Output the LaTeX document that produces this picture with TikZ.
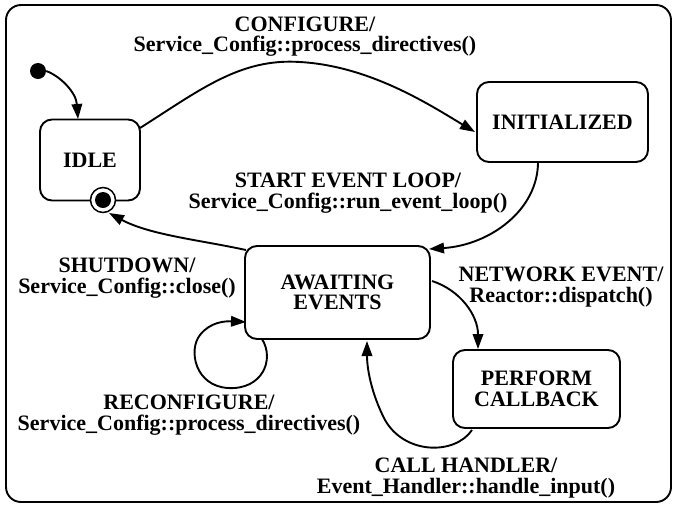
\documentclass[tikz,border=0pt]{standalone}
\usepackage{fontspec}
\setmainfont{Liberation Serif}
\usetikzlibrary{arrows.meta}
\begin{document}
\begin{tikzpicture}[x=1pt,y=-1pt,
  every node/.style={font=\fontsize{22}{20.5}\selectfont\bfseries},
  state/.style={draw,line width=1.9pt,rounded corners=12pt,align=center,inner sep=0pt},
  lbl/.style={align=center,inner sep=0pt},
  conn/.style={line width=1.9pt,-{Triangle[length=15pt,width=10.5pt]}}]
\useasboundingbox (0,0) rectangle (676,507);
\draw[line width=1.9pt,rounded corners=15pt] (6,5) rectangle (671,502);
% states
\node[state,minimum width=100pt,minimum height=81pt] (idle) at (90,160) {IDLE};
\node[state,minimum width=171pt,minimum height=80pt] (init) at (562.5,122) {INITIALIZED};
\node[state,minimum width=185pt,minimum height=93pt] (await) at (337.5,292.5) {AWAITING\\EVENTS};
\node[state,minimum width=167pt,minimum height=78pt] (perf) at (536.5,389) {PERFORM\\CALLBACK};
% pseudo states
\node[circle,fill=black,minimum size=16pt,inner sep=0pt] (start) at (38,71) {};
\node[circle,draw,line width=1.5pt,fill=white,minimum size=25pt,inner sep=0pt] (fin) at (103,200) {};
\node[circle,fill=black,minimum size=16pt,inner sep=0pt] (finin) at (103,200) {};
% connector end points
\coordinate (idleT) at (78,119);
\coordinate (idleR) at (140,128);
\coordinate (initL) at (475,132);
\coordinate (initB) at (538,162);
\coordinate (awTR) at (429,249);
\coordinate (awTL) at (246,250);
\coordinate (finB) at (109,213);
\coordinate (awR) at (432,281);
\coordinate (perfT) at (478,349);
\coordinate (perfBL) at (472,430);
\coordinate (awB) at (367,341);
\coordinate (awBL) at (262,339);
\coordinate (awL) at (246,322);
% connectors
\draw[conn] (start.east) .. controls (60,76) and (76,92) .. (idleT);
\draw[conn] (idleR) .. controls (200,90) and (240,58) .. (300,62) .. controls (370,66) and (430,105) .. (initL);
\draw[conn] (initB) .. controls (538,210) and (490,245) .. (awTR);
\draw[conn] (awTL) .. controls (200,240) and (150,235) .. (finB);
\draw[conn] (awR) .. controls (460,290) and (478,315) .. (perfT);
\draw[conn] (perfBL) .. controls (455,455) and (405,455) .. (385,420) .. controls (372,395) and (367,370) .. (awB);
\draw[conn] (awBL) .. controls (275,360) and (262,390) .. (228,388) .. controls (195,386) and (188,350) .. (200,335) .. controls (210,322) and (225,321) .. (awL);
% labels
\node[lbl] (lconf) at (305,36.5) {CONFIGURE/\\Service\_Config::process\_directives()};
\node[lbl] (lstart) at (348,193) {START EVENT LOOP/\\Service\_Config::run\_event\_loop()};
\node[lbl] (lshut) at (127,278) {SHUTDOWN/\\Service\_Config::close()};
\node[lbl] (lreconf) at (189,415) {RECONFIGURE/\\Service\_Config::process\_directives()};
\node[lbl] (lnet) at (561,287) {NETWORK EVENT/\\Reactor::dispatch()};
\node[lbl] (lcall) at (466,478) {CALL HANDLER/\\Event\_Handler::handle\_input()};
\end{tikzpicture}
\end{document}
